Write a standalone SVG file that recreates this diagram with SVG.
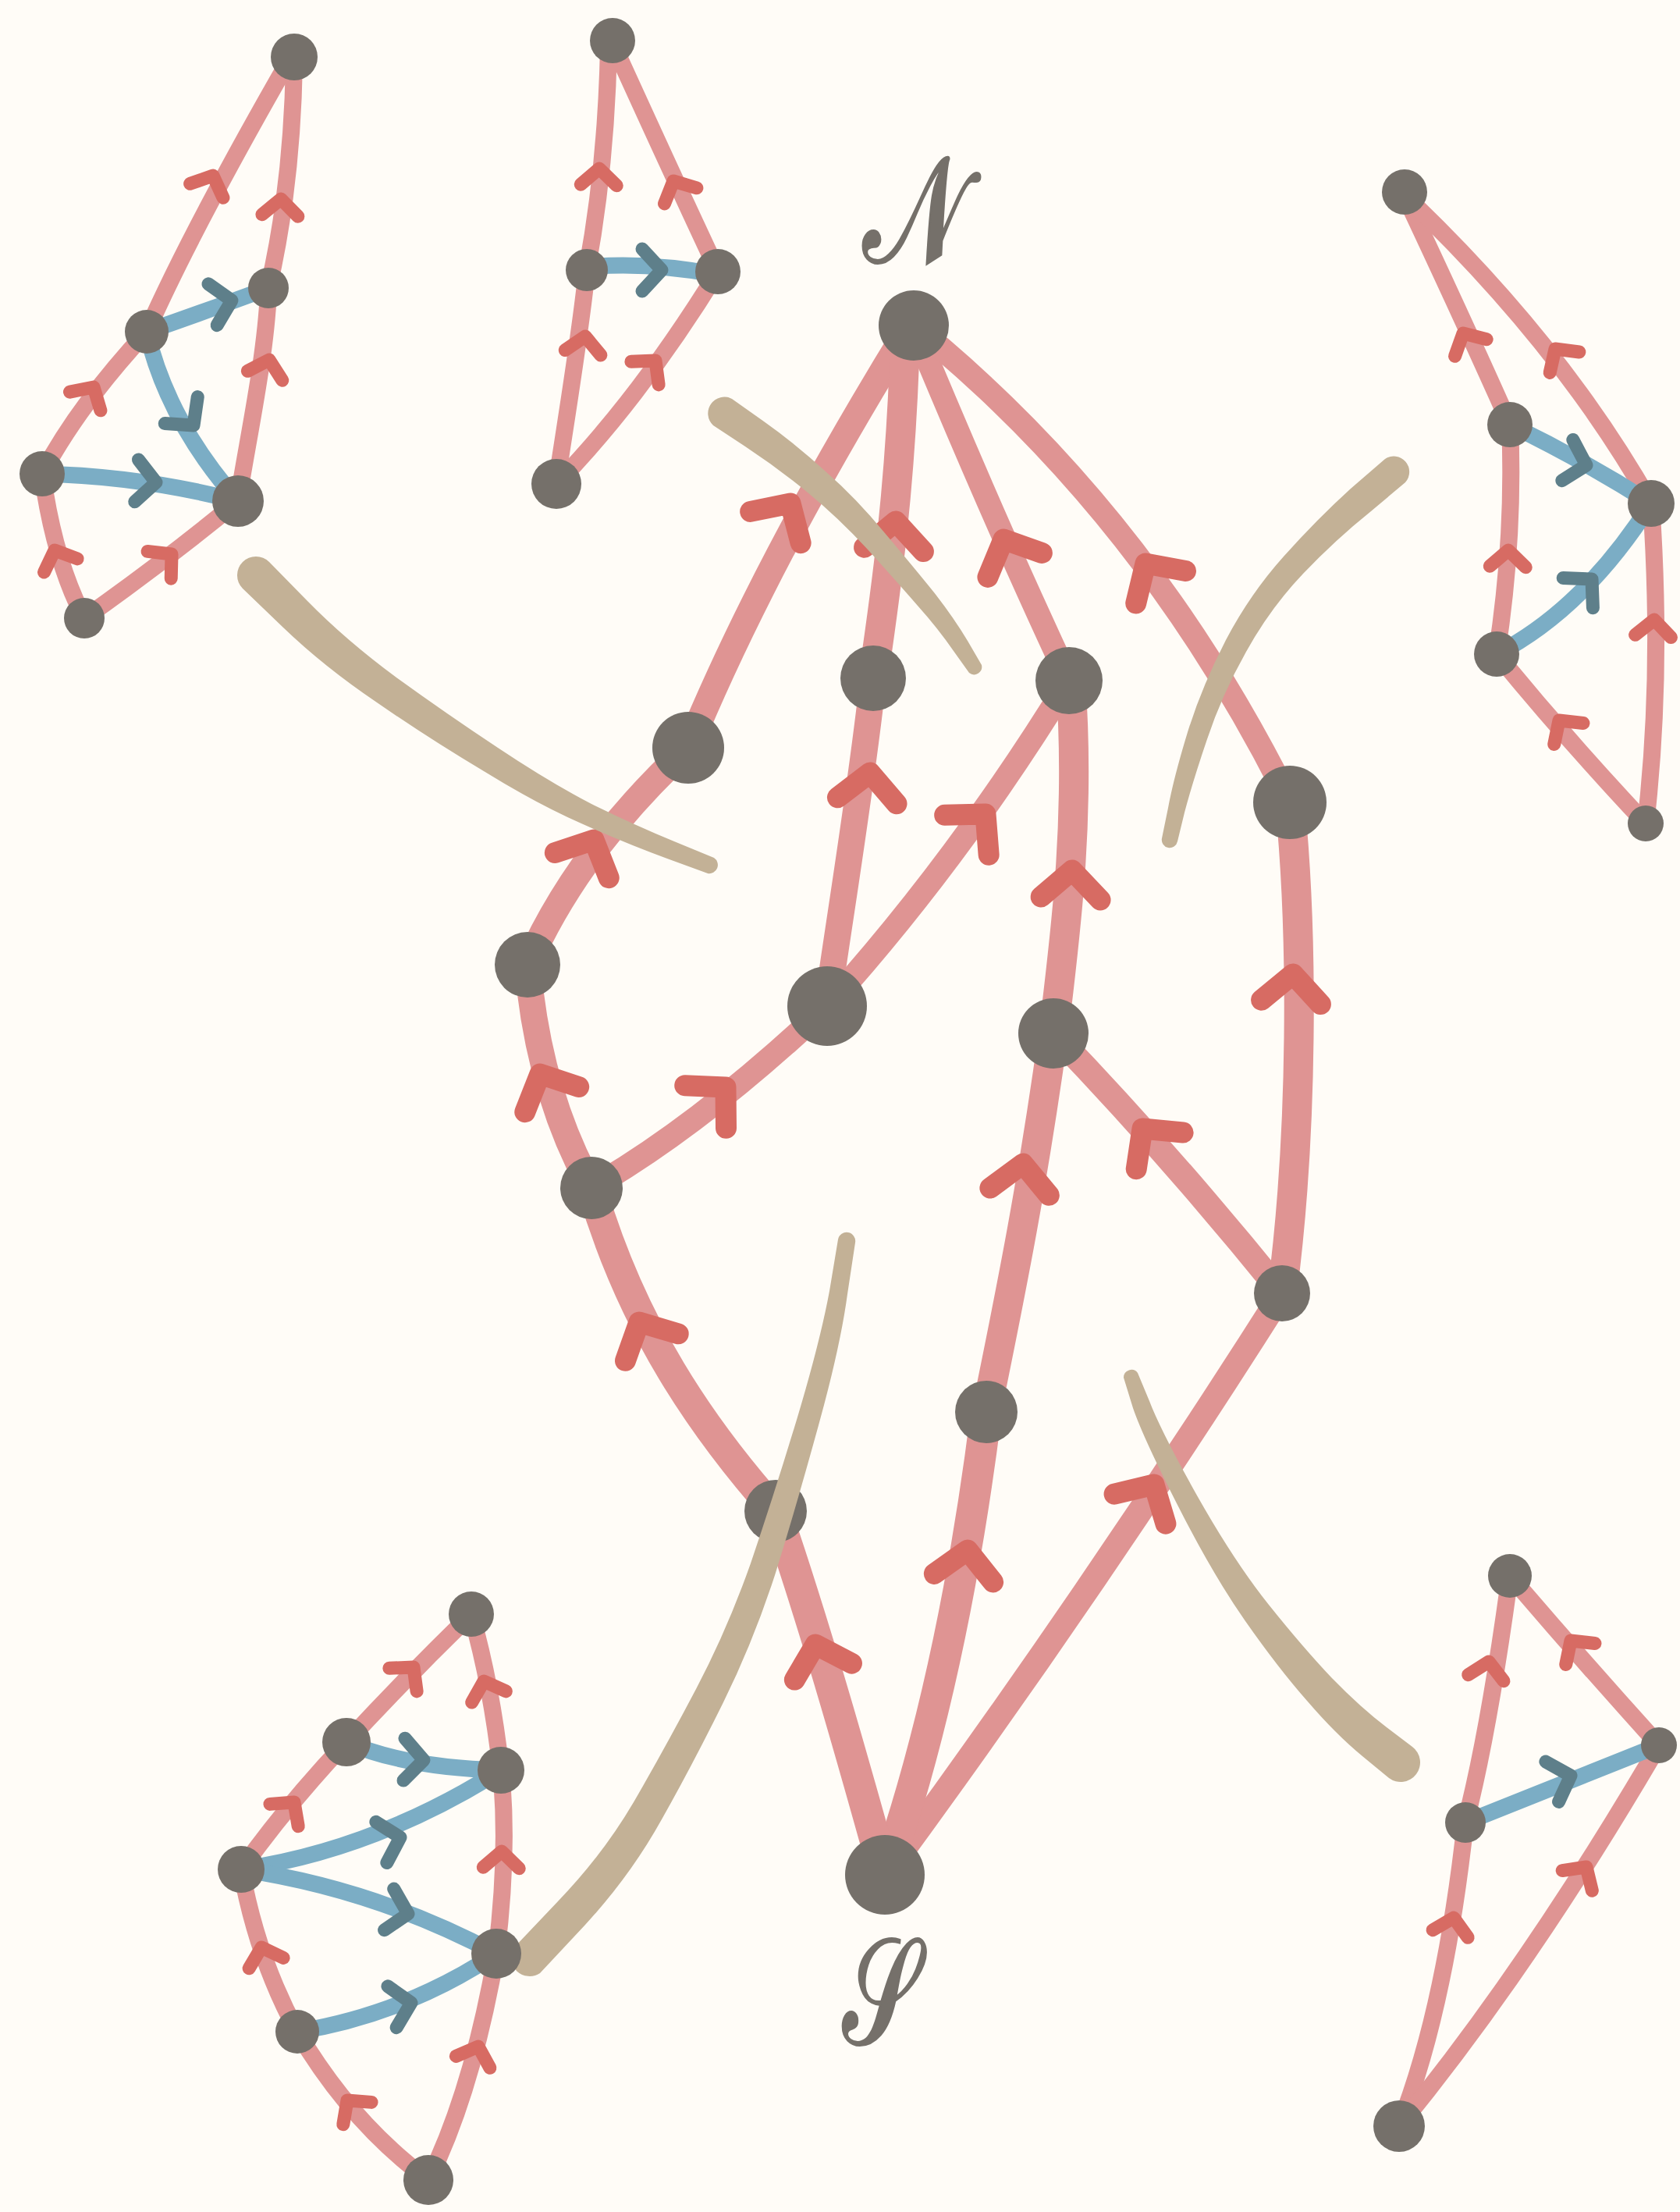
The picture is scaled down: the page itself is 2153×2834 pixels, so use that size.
<svg xmlns="http://www.w3.org/2000/svg" xmlns:xlink="http://www.w3.org/1999/xlink" width="2153" height="2834" viewBox="0 0 2153 2834">
<style>
.e{fill:none;stroke:#df9493;stroke-linecap:round;stroke-linejoin:round}
.es{fill:none;stroke:#df9493;stroke-width:22;stroke-linecap:round}
.eb{fill:none;stroke:#7badc5;stroke-width:21;stroke-linecap:round}
.ah{fill:none;stroke:#d76b63;stroke-linecap:round;stroke-linejoin:round}
.bh{fill:none;stroke:#5e7f8a;stroke-linecap:round;stroke-linejoin:round}
.n{fill:#75706a}
.cut{fill:#c3b196}
.lbl{fill:#75706a;stroke:#75706a;stroke-width:4;font-family:"DejaVu Serif","Noto Sans","Liberation Serif",serif}
</style>
<defs>
<path id="am" class="ah" stroke-width="27" d="M -38,36 L 0,0 L 38,36"/>
<path id="as" class="ah" stroke-width="17" d="M -23,21 L 0,0 L 23,21"/>
<path id="bs" class="bh" stroke-width="17" d="M -27,25 L 0,0 L 27,25"/>
</defs>
<rect width="2153" height="2834" fill="#fffcf7"/>
<g id="connectors">
<path class="e" stroke-width="34" d="M 882,958 Q 980,720 1165,420"/>
<path class="e" stroke-width="38" d="M 1119,869 C 1135,760 1155,620 1160,430"/>
<path class="e" stroke-width="30" d="M 1370,872 Q 1280,680 1180,440"/>
<path class="e" stroke-width="30" d="M 1653,1028 Q 1480,680 1205,445"/>
<path class="e" stroke-width="34" d="M 676,1236 Q 740,1090 882,958"/>
<path class="e" stroke-width="34" d="M 1060,1289 C 1080,1150 1105,1000 1119,869"/>
<path class="e" stroke-width="30" d="M 1060,1289 Q 1230,1100 1370,872"/>
<path class="e" stroke-width="38" d="M 1350,1324 C 1365,1200 1385,1050 1372,872"/>
<path class="e" stroke-width="38" d="M 1643,1657 C 1670,1450 1670,1200 1653,1028"/>
<path class="e" stroke-width="34" d="M 758,1522 Q 690,1400 676,1236"/>
<path class="e" stroke-width="30" d="M 758,1522 Q 900,1440 1060,1289"/>
<path class="e" stroke-width="32" d="M 1643,1657 Q 1500,1480 1350,1324"/>
<path class="e" stroke-width="38" d="M 1264,1809 C 1290,1680 1320,1540 1350,1324"/>
<path class="e" stroke-width="38" d="M 994,1936 C 900,1830 810,1700 758,1522"/>
<path class="e" stroke-width="32" d="M 1134,2402 Q 1400,2040 1643,1657"/>
<path class="e" stroke-width="40" d="M 1134,2402 C 1180,2270 1230,2080 1264,1809"/>
<path class="e" stroke-width="40" d="M 1134,2402 C 1100,2280 1050,2100 994,1936"/>
<use href="#am" transform="translate(1013,645) rotate(32)"/>
<use href="#am" transform="translate(1148,668) rotate(4)"/>
<use href="#am" transform="translate(1286,691) rotate(-24)"/>
<use href="#am" transform="translate(1468,722) rotate(-33)"/>
<use href="#am" transform="translate(761,1076) rotate(25)"/>
<use href="#am" transform="translate(1115,990) rotate(6)"/>
<use href="#am" transform="translate(1263,1043) rotate(42)"/>
<use href="#am" transform="translate(1374,1115) rotate(3)"/>
<use href="#am" transform="translate(1657,1248) rotate(4)"/>
<use href="#am" transform="translate(692,1376) rotate(-25)"/>
<use href="#am" transform="translate(930,1393) rotate(46)"/>
<use href="#am" transform="translate(1464,1446) rotate(-38)"/>
<use href="#am" transform="translate(1311,1491) rotate(7)"/>
<use href="#am" transform="translate(819,1694) rotate(-27)"/>
<use href="#am" transform="translate(1479,1902) rotate(30)"/>
<use href="#am" transform="translate(1240,1986) rotate(8)"/>
<use href="#am" transform="translate(1045,2107) rotate(-16)"/>

<path class="es" d="M 188,425 C 230,330 300,200 370,78"/>
<path class="es" d="M 344,369 C 360,300 375,200 377,80"/>
<path class="es" d="M 305,642 C 318,560 340,460 344,375"/>
<path class="es" d="M 54,607 Q 100,520 188,425"/>
<path class="es" d="M 108,792 Q 70,720 54,607"/>
<path class="es" d="M 108,792 Q 210,720 305,642"/>
<path class="eb" d="M 188,425 Q 260,400 344,369"/>
<path class="eb" d="M 188,425 Q 215,540 305,642"/>
<path class="eb" d="M 54,607 Q 180,610 305,642"/>
<use href="#as" transform="translate(273,225) rotate(23)"/>
<use href="#as" transform="translate(360,255) rotate(3)"/>
<use href="#as" transform="translate(345,461) rotate(15)"/>
<use href="#as" transform="translate(120,496) rotate(31)"/>
<use href="#as" transform="translate(70,705) rotate(-22)"/>
<use href="#as" transform="translate(220,710) rotate(49)"/>
<use href="#bs" transform="translate(297,385) rotate(78)"/>
<use href="#bs" transform="translate(248,545) rotate(141)"/>
<use href="#bs" transform="translate(200,618) rotate(95)"/>

<path class="es" d="M 752,346 C 768,260 778,160 780,60"/>
<path class="es" d="M 920,348 Q 860,220 785,55"/>
<path class="es" d="M 713,620 C 725,540 745,420 752,346"/>
<path class="es" d="M 713,620 Q 820,510 920,348"/>
<path class="eb" d="M 752,342 Q 830,335 920,352"/>
<use href="#as" transform="translate(768,216) rotate(2)"/>
<use href="#as" transform="translate(863,232) rotate(-26)"/>
<use href="#as" transform="translate(750,431) rotate(8)"/>
<use href="#as" transform="translate(840,462) rotate(40)"/>
<use href="#bs" transform="translate(848,346) rotate(90)"/>

<path class="es" d="M 1935,544 Q 1880,420 1800,250"/>
<path class="es" d="M 2116,645 Q 2000,440 1800,250"/>
<path class="es" d="M 1918,838 C 1930,760 1940,660 1935,544"/>
<path class="es" d="M 2109,1055 C 2120,960 2128,820 2116,645"/>
<path class="es" d="M 2109,1055 Q 2010,950 1918,838"/>
<path class="eb" stroke-width="16" d="M 1935,544 Q 2030,590 2116,645"/>
<path class="eb" d="M 1918,838 Q 2030,780 2116,645"/>
<use href="#as" transform="translate(1875,427) rotate(-28)"/>
<use href="#as" transform="translate(1993,447) rotate(-35)"/>
<use href="#as" transform="translate(1933,705) rotate(2)"/>
<use href="#as" transform="translate(2120,794) rotate(4)"/>
<use href="#as" transform="translate(1998,923) rotate(-36)"/>
<use href="#bs" transform="translate(2033,596) rotate(105)"/>
<use href="#bs" transform="translate(2040,742) rotate(45)"/>

<path class="es" d="M 444,2232 Q 520,2150 604,2068"/>
<path class="es" d="M 642,2268 Q 630,2160 604,2068"/>
<path class="es" d="M 309,2395 Q 370,2310 444,2232"/>
<path class="es" d="M 636,2503 C 645,2430 650,2350 642,2268"/>
<path class="es" d="M 381,2603 Q 330,2510 309,2395"/>
<path class="es" d="M 549,2793 Q 450,2720 381,2603"/>
<path class="es" d="M 549,2793 Q 605,2680 636,2503"/>
<path class="eb" d="M 444,2232 Q 520,2265 642,2268"/>
<path class="eb" d="M 309,2395 Q 480,2370 642,2268"/>
<path class="eb" d="M 309,2395 Q 480,2420 636,2503"/>
<path class="eb" d="M 381,2603 Q 520,2580 636,2503"/>
<use href="#as" transform="translate(530,2136) rotate(40)"/>
<use href="#as" transform="translate(620,2154) rotate(-18)"/>
<use href="#as" transform="translate(377,2309) rotate(38)"/>
<use href="#as" transform="translate(643,2372) rotate(2)"/>
<use href="#as" transform="translate(335,2495) rotate(-17)"/>
<use href="#as" transform="translate(445,2691) rotate(-38)"/>
<use href="#as" transform="translate(613,2622) rotate(19)"/>
<use href="#bs" transform="translate(543,2255) rotate(92)"/>
<use href="#bs" transform="translate(513,2354) rotate(75)"/>
<use href="#bs" transform="translate(523,2452) rotate(103)"/>
<use href="#bs" transform="translate(527,2566) rotate(78)"/>

<path class="es" d="M 1878,2335 C 1900,2250 1920,2130 1935,2019"/>
<path class="es" d="M 2126,2236 Q 2030,2130 1935,2019"/>
<path class="es" d="M 1793,2724 C 1830,2630 1860,2500 1878,2335"/>
<path class="es" d="M 1793,2724 Q 1960,2520 2126,2236"/>
<path class="eb" stroke-width="18" d="M 1878,2335 Q 1990,2290 2126,2236"/>
<use href="#as" transform="translate(1908,2129) rotate(10)"/>
<use href="#as" transform="translate(2013,2102) rotate(-36)"/>
<use href="#as" transform="translate(1863,2457) rotate(12)"/>
<use href="#as" transform="translate(2033,2392) rotate(34)"/>
<use href="#bs" transform="translate(2013,2275) rotate(72)"/>
</g>

<g id="node-N"><circle class="n" cx="1171" cy="417" r="45"/><text class="lbl" x="1172" y="335" font-size="190" text-anchor="middle" textLength="132" lengthAdjust="spacingAndGlyphs">𝒩</text></g>
<g id="node-S"><circle class="n" cx="1134" cy="2402" r="51"/><text class="lbl" x="1128" y="2618" font-size="190" text-anchor="middle" textLength="96" lengthAdjust="spacingAndGlyphs">𝒮</text></g>
<g id="node-B"><circle class="n" cx="882" cy="958" r="46"/></g>
<g id="node-C"><circle class="n" cx="1119" cy="869" r="42"/></g>
<g id="node-D"><circle class="n" cx="1370" cy="872" r="43"/></g>
<g id="node-E"><circle class="n" cx="1653" cy="1028" r="47"/></g>
<g id="node-F"><circle class="n" cx="676" cy="1236" r="42"/></g>
<g id="node-G"><circle class="n" cx="1060" cy="1289" r="51"/></g>
<g id="node-H"><circle class="n" cx="1350" cy="1324" r="45"/></g>
<g id="node-I"><circle class="n" cx="758" cy="1522" r="40"/></g>
<g id="node-J"><circle class="n" cx="1643" cy="1657" r="36"/></g>
<g id="node-K"><circle class="n" cx="1264" cy="1809" r="40"/></g>
<g id="node-L"><circle class="n" cx="994" cy="1936" r="40"/></g>

<g id="cuts">
<path class="cut" d="M 345,720 L 394,770 Q 443,820 508,868 Q 573,915 638,958 Q 704,1002 758,1030 Q 813,1057 864,1078 L 915,1099 A 11 11 0 0 1 907,1119 L 855,1100 Q 803,1081 745,1055 Q 688,1030 620,988 Q 551,947 483,900 Q 415,854 363,804 L 311,754 A 24 24 0 0 1 345,720 Z"/>
<path class="cut" d="M 938,511 L 979,540 Q 1020,569 1058,604 Q 1097,638 1134,683 Q 1172,728 1197,759 Q 1222,791 1240,821 L 1258,852 A 10 10 0 0 1 1242,862 L 1222,834 Q 1202,805 1176,776 Q 1150,746 1112,704 Q 1073,662 1035,631 Q 996,599 955,572 L 914,545 A 21 21 0 0 1 938,511 Z"/>
<path class="cut" d="M 1801,618 L 1757,655 Q 1712,691 1670,735 Q 1628,779 1597,835 Q 1566,890 1547,947 Q 1528,1003 1518,1041 L 1509,1078 A 10 10 0 0 1 1489,1074 L 1497,1035 Q 1504,997 1522,938 Q 1540,880 1571,820 Q 1602,761 1645,713 Q 1688,665 1731,626 L 1775,588 A 20 20 0 0 1 1801,618 Z"/>
<path class="cut" d="M 1096,1592 L 1086,1658 Q 1077,1725 1049,1826 Q 1021,1928 994,2015 Q 966,2102 927,2181 Q 888,2260 848,2331 Q 808,2403 750,2466 L 692,2528 A 24 24 0 0 1 658,2496 L 715,2436 Q 772,2377 812,2309 Q 852,2240 892,2164 Q 932,2088 962,2003 Q 991,1918 1021,1819 Q 1051,1719 1063,1654 L 1074,1588 A 11 11 0 0 1 1096,1592 Z"/>
<path class="cut" d="M 1458,1759 L 1473,1795 Q 1487,1832 1534,1916 Q 1582,2001 1626,2056 Q 1670,2111 1707,2150 Q 1744,2188 1777,2213 L 1810,2238 A 25 25 0 0 1 1780,2278 L 1746,2250 Q 1712,2222 1675,2179 Q 1638,2137 1596,2077 Q 1554,2017 1510,1930 Q 1465,1842 1452,1804 L 1440,1765 A 10 10 0 0 1 1458,1759 Z"/>
</g>

<g id="node-a1"><circle class="n" cx="377" cy="73" r="30"/></g>
<g id="node-a2"><circle class="n" cx="344" cy="369" r="26"/></g>
<g id="node-a3"><circle class="n" cx="188" cy="425" r="28"/></g>
<g id="node-a4"><circle class="n" cx="54" cy="607" r="29"/></g>
<g id="node-a5"><circle class="n" cx="305" cy="642" r="33"/></g>
<g id="node-a6"><circle class="n" cx="108" cy="792" r="26"/></g>
<g id="node-b1"><circle class="n" cx="785" cy="52" r="29"/></g>
<g id="node-b2"><circle class="n" cx="752" cy="346" r="27"/></g>
<g id="node-b3"><circle class="n" cx="920" cy="348" r="29"/></g>
<g id="node-b4"><circle class="n" cx="713" cy="620" r="32"/></g>
<g id="node-c1"><circle class="n" cx="1800" cy="246" r="29"/></g>
<g id="node-c2"><circle class="n" cx="1935" cy="544" r="29"/></g>
<g id="node-c3"><circle class="n" cx="2116" cy="645" r="30"/></g>
<g id="node-c4"><circle class="n" cx="1918" cy="838" r="29"/></g>
<g id="node-c5"><circle class="n" cx="2109" cy="1055" r="23"/></g>
<g id="node-d1"><circle class="n" cx="604" cy="2068" r="29"/></g>
<g id="node-d2"><circle class="n" cx="444" cy="2232" r="31"/></g>
<g id="node-d3"><circle class="n" cx="642" cy="2268" r="30"/></g>
<g id="node-d4"><circle class="n" cx="309" cy="2395" r="30"/></g>
<g id="node-d5"><circle class="n" cx="636" cy="2503" r="32"/></g>
<g id="node-d6"><circle class="n" cx="381" cy="2603" r="28"/></g>
<g id="node-d7"><circle class="n" cx="549" cy="2793" r="32"/></g>
<g id="node-e1"><circle class="n" cx="1935" cy="2019" r="28"/></g>
<g id="node-e2"><circle class="n" cx="2126" cy="2236" r="23"/></g>
<g id="node-e3"><circle class="n" cx="1878" cy="2335" r="26"/></g>
<g id="node-e4"><circle class="n" cx="1793" cy="2724" r="33"/></g>
</svg>
